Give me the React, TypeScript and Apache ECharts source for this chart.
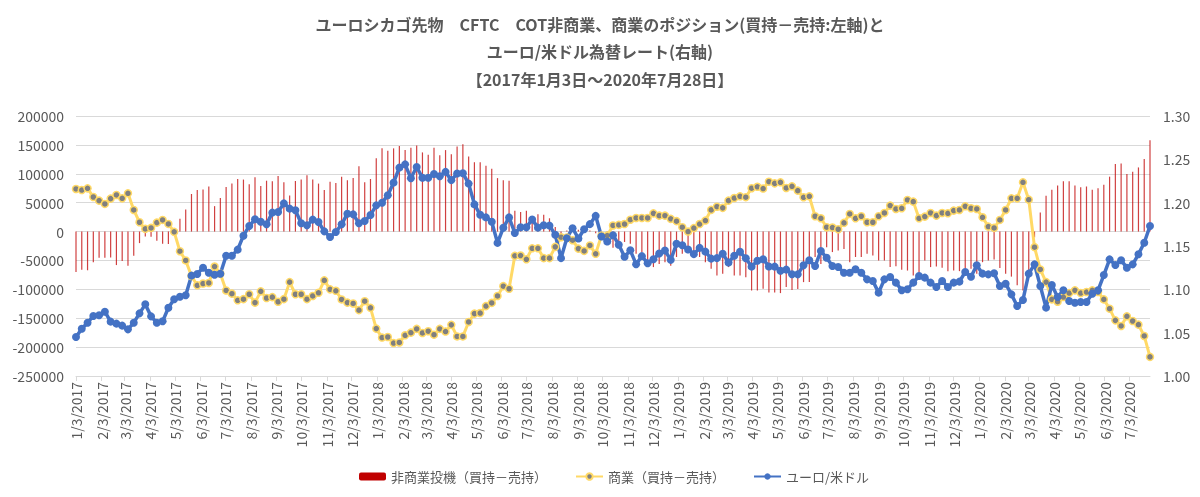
import React, { useEffect, useRef } from "react";
import * as echarts from "echarts";

// Weekly (Tuesday) observations from 2017-01-03 to 2020-07-28
const START_YEAR = 2017;
const START_MONTH = 0;
const START_DAY = 3;

// 非商業投機（買持－売持）
const nonCommercial: number[] = [
  -70000, -66000, -67000, -53000, -45500, -45500, -45000, -58000, -51000, -59000,
  -42000, -20000, -8600, -9000, -16000, -21000, -21500, 3000, 22000, 38000,
  65000, 72000, 73000, 78000, 44000, 58000, 77000, 83000, 91000, 90000,
  82000, 94000, 79000, 88000, 87000, 96000, 85500, 62500, 87500, 90000,
  97500, 90000, 83000, 72000, 86000, 84000, 95000, 89000, 92500, 113000,
  85500, 91000, 127000, 144000, 140000, 144000, 148000, 141000, 145000, 149000,
  137000, 133000, 145000, 132000, 141000, 134000, 147000, 151000, 130000, 120000,
  120000, 114000, 108500, 92500, 89000, 88000, 36000, 34000, 36000, 26000,
  30000, 29000, 23000, 8000, -8000, 2000, 4000, 3000, -2000, 2000,
  -3000, -5000, -12000, -28000, -18000, -18000, -21000, -38500, -35500, -56000,
  -61500, -56000, -53000, -59000, -44000, -38500, -33000, -38500, -44000, -53000,
  -64500, -76000, -73000, -61500, -76000, -76000, -79000, -102000, -102000, -99000,
  -105500, -105500, -106500, -96000, -101000, -99500, -87500, -87500, -44000, -56000,
  -27000, -35500, -33000, -30000, -53000, -44000, -44000, -38500, -41500, -50000,
  -50000, -61500, -60000, -66000, -67500, -76000, -72000, -50000, -61500, -60500,
  -62500, -68500, -67500, -68500, -67500, -64500, -73000, -53000, -50000, -48500,
  -63000, -73000, -78000, -93000, -102000, -76000, -10000, 33000, 62000, 72500,
  79500, 87000, 87000, 79500, 76500, 78000, 72500, 75000, 81000, 95000,
  117000, 118000, 99500, 103500, 111000, 125500, 158000,
];

// 商業（買持－売持）
const commercial: number[] = [
  73700, 71900, 74800, 59800, 53500, 47800, 57000, 63300, 57500, 66200,
  37400, 16100, 4600, 6300, 15500, 20100, 13200, -500, -34000, -50000,
  -77000, -93000, -90000, -89000, -60500, -73000, -102000, -107500, -119000, -117000,
  -108500, -123000, -103500, -115000, -113500, -121500, -117000, -87500, -108500, -108500,
  -117000, -111500, -106000, -84500, -100000, -102500, -117500, -123000, -124500, -136000,
  -120500, -132000, -168000, -183500, -182500, -193000, -192000, -179500, -175000, -168500,
  -175500, -172500, -178500, -168500, -173000, -161500, -181500, -181500, -156500, -142000,
  -141000, -129000, -123500, -111500, -94500, -99000, -42000, -41500, -48000, -29000,
  -29000, -46000, -46000, -26500, -9800, -10500, -15000, -29500, -33500, -24000,
  -38500, -7000, -7000, 10500, 11500, 13000, 20500, 23500, 23500, 23500,
  31500, 27500, 27500, 22000, 18000, 7500, 0, 6000, 13000, 19000,
  37500, 43000, 41000, 53500, 58000, 61000, 59500, 75000, 77500, 74500,
  86300, 83400, 85200, 75400, 78300, 70800, 59300, 61000, 26500, 23000,
  7500, 7000, 4000, 15000, 30500, 23000, 26500, 16100, 16100, 26500,
  32200, 44900, 39100, 40300, 54700, 51800, 23000, 25900, 32200, 27600,
  32200, 31600, 36300, 37400, 43700, 40300, 39100, 24700, 8600, 6300,
  20100, 37400, 57500, 57500, 85200, 55200, -27000, -65600, -87500, -117400,
  -121400, -113400, -106500, -101800, -106500, -104700, -101800, -104700, -117400, -133500,
  -153700, -163400, -146700, -154800, -161100, -180700, -216900,
];

// ユーロ/米ドル
const eurUsd: number[] = [
  1.045, 1.0546, 1.0615, 1.0692, 1.07, 1.0742, 1.0627, 1.0604, 1.0581, 1.0538,
  1.0615, 1.0723, 1.0827, 1.0688, 1.0615, 1.0631, 1.0788, 1.0885, 1.0915, 1.0931,
  1.1158, 1.1177, 1.125, 1.1192, 1.1169, 1.118, 1.1388, 1.1388, 1.1458, 1.1619,
  1.1731, 1.1808, 1.178, 1.175, 1.1885, 1.1892, 1.1992, 1.1931, 1.1912, 1.1762,
  1.1738, 1.1804, 1.1777, 1.1669, 1.1604, 1.1662, 1.175, 1.1873, 1.1865, 1.1762,
  1.1789, 1.1858, 1.1969, 1.2, 1.2085, 1.2231, 1.2404, 1.2442, 1.2281, 1.2412,
  1.2288, 1.2288, 1.233, 1.2305, 1.2355, 1.226, 1.2336, 1.234, 1.222, 1.198,
  1.186, 1.183, 1.178, 1.1536, 1.171, 1.183, 1.165, 1.1717, 1.1717, 1.1805,
  1.1712, 1.174, 1.1735, 1.163, 1.136, 1.159, 1.1705, 1.1587, 1.1693, 1.1752,
  1.1848, 1.161, 1.1552, 1.1625, 1.1515, 1.1376, 1.145, 1.129, 1.1383, 1.13,
  1.1348, 1.1413, 1.1448, 1.134, 1.1525, 1.1508, 1.146, 1.1406, 1.1478, 1.1435,
  1.1354, 1.136, 1.141, 1.131, 1.1387, 1.1433, 1.1358, 1.1262, 1.133, 1.1348,
  1.1264, 1.1262, 1.1214, 1.1227, 1.1175, 1.1173, 1.1277, 1.1335, 1.1269, 1.1442,
  1.1365, 1.1269, 1.1258, 1.1192, 1.1192, 1.1231, 1.1192, 1.1115, 1.1096, 1.0962,
  1.1115, 1.1142, 1.1077, 1.0989, 1.1, 1.1077, 1.1154, 1.1135, 1.1077, 1.1027,
  1.1096, 1.1027, 1.1077, 1.1089, 1.12, 1.1146, 1.1277, 1.1181, 1.1173, 1.1185,
  1.1038, 1.1065, 1.0942, 1.0808, 1.0877, 1.1181, 1.1288, 1.1038, 1.0789, 1.105,
  1.0912, 1.0989, 1.0865, 1.0846, 1.0854, 1.0854, 1.095, 1.0989, 1.1165, 1.1346,
  1.1281, 1.1335, 1.125, 1.1288, 1.1404, 1.1538, 1.1731,
];

const leftTicks = { min: -250000, max: 200000, interval: 50000 };
const rightTicks = { min: 1.0, max: 1.3, interval: 0.05 };

const seriesNames = ["非商業投機（買持－売持）", "商業（買持－売持）", "ユーロ/米ドル"];
const titleText =
  "ユーロシカゴ先物　CFTC　COT非商業、商業のポジション(買持－売持:左軸)と\nユーロ/米ドル為替レート(右軸)\n【2017年1月3日～2020年7月28日】";

const DAY = 86400000;
const startTime = new Date(START_YEAR, START_MONTH, START_DAY).getTime();
const dayIndex = (t: number) => Math.round((t - startTime) / DAY);

// x value for each weekly observation = days since 2017-01-03
const weekDays: number[] = nonCommercial.map((_, i) =>
  dayIndex(new Date(START_YEAR, START_MONTH, START_DAY + 7 * i).getTime())
);
const lastDay = weekDays[weekDays.length - 1];

// Axis labels on the 3rd of each month
const monthTicks: number[] = [];
for (let k = 0; ; k++) {
  const d = dayIndex(new Date(START_YEAR, START_MONTH + k, START_DAY).getTime());
  if (d > lastDay) break;
  monthTicks.push(d);
}

const FONT = '"Noto Sans CJK JP", "Noto Sans", sans-serif';
const GRAY = "#595959";

export default function App() {
  const ref = useRef<HTMLDivElement>(null);
  useEffect(() => {
    if (!ref.current) return;
    const chart = echarts.init(ref.current, undefined, { renderer: "svg" });
    const pair = (arr: number[]) => arr.map((v, i) => [weekDays[i], v]);
    chart.setOption({
      animation: false,
      textStyle: { fontFamily: FONT },
      title: {
        text: titleText,
        left: "center",
        top: 5,
        textStyle: {
          fontSize: 16,
          fontWeight: "bold",
          color: GRAY,
          lineHeight: 27.5,
          fontFamily: FONT,
        },
      },
      legend: {
        top: 465,
        left: 354,
        itemWidth: 27,
        itemHeight: 8,
        itemGap: 28,
        textStyle: { fontSize: 13, color: GRAY, fontFamily: FONT },
        data: [
          { name: seriesNames[0], itemStyle: { color: "#C00000", opacity: 1 } },
          { name: seriesNames[1] },
          { name: seriesNames[2] },
        ],
      },
      grid: { left: 76, right: 50, top: 116, bottom: 121 },
      xAxis: {
        type: "value",
        min: 0,
        max: lastDay,
        axisLine: { show: true, onZero: false, lineStyle: { color: "#D9D9D9", width: 1 } },
        axisTick: {
          show: true,
          customValues: monthTicks,
          length: 5,
          lineStyle: { color: "#D9D9D9" },
        },
        axisLabel: {
          customValues: monthTicks,
          rotate: 90,
          fontSize: 14,
          color: GRAY,
          margin: 6,
          fontFamily: FONT,
          formatter: (val: number) => {
            const d = new Date(startTime + val * DAY + 12 * 3600000);
            return `${d.getMonth() + 1}/${d.getDate()}/${d.getFullYear()}`;
          },
        },
        splitLine: { show: false },
      },
      yAxis: [
        {
          type: "value",
          ...leftTicks,
          axisLine: { show: false },
          axisTick: { show: false },
          axisLabel: {
            fontSize: 14,
            color: GRAY,
            margin: 12,
            fontFamily: FONT,
            formatter: (v: number) => String(v),
          },
          splitLine: { show: true, lineStyle: { color: "#D9D9D9", width: 1 } },
        },
        {
          type: "value",
          ...rightTicks,
          axisLine: { show: false },
          axisTick: { show: false },
          axisLabel: {
            fontSize: 14,
            color: GRAY,
            margin: 13,
            fontFamily: FONT,
            formatter: (v: number) => v.toFixed(2),
          },
          splitLine: { show: false },
        },
      ],
      series: [
        {
          name: seriesNames[0],
          type: "bar",
          yAxisIndex: 0,
          barWidth: 1.2,
          itemStyle: { color: "#C00000", opacity: 0.75 },
          data: pair(nonCommercial),
        },
        {
          name: seriesNames[1],
          type: "line",
          yAxisIndex: 0,
          symbol: "circle",
          symbolSize: 7,
          lineStyle: { color: "#FFD966", width: 3 },
          itemStyle: { color: "#7F7F7F", borderColor: "#FFD966", borderWidth: 1.5 },
          data: pair(commercial),
        },
        {
          name: seriesNames[2],
          type: "line",
          yAxisIndex: 1,
          symbol: "circle",
          symbolSize: 8,
          lineStyle: { color: "#4472C4", width: 3.5 },
          itemStyle: { color: "#4472C4" },
          data: pair(eurUsd),
        },
      ],
    });
    return () => chart.dispose();
  }, []);
  return (
    <div
      ref={ref}
      style={{ position: "fixed", left: 0, top: 0, width: 1200, height: 497 }}
    />
  );
}
